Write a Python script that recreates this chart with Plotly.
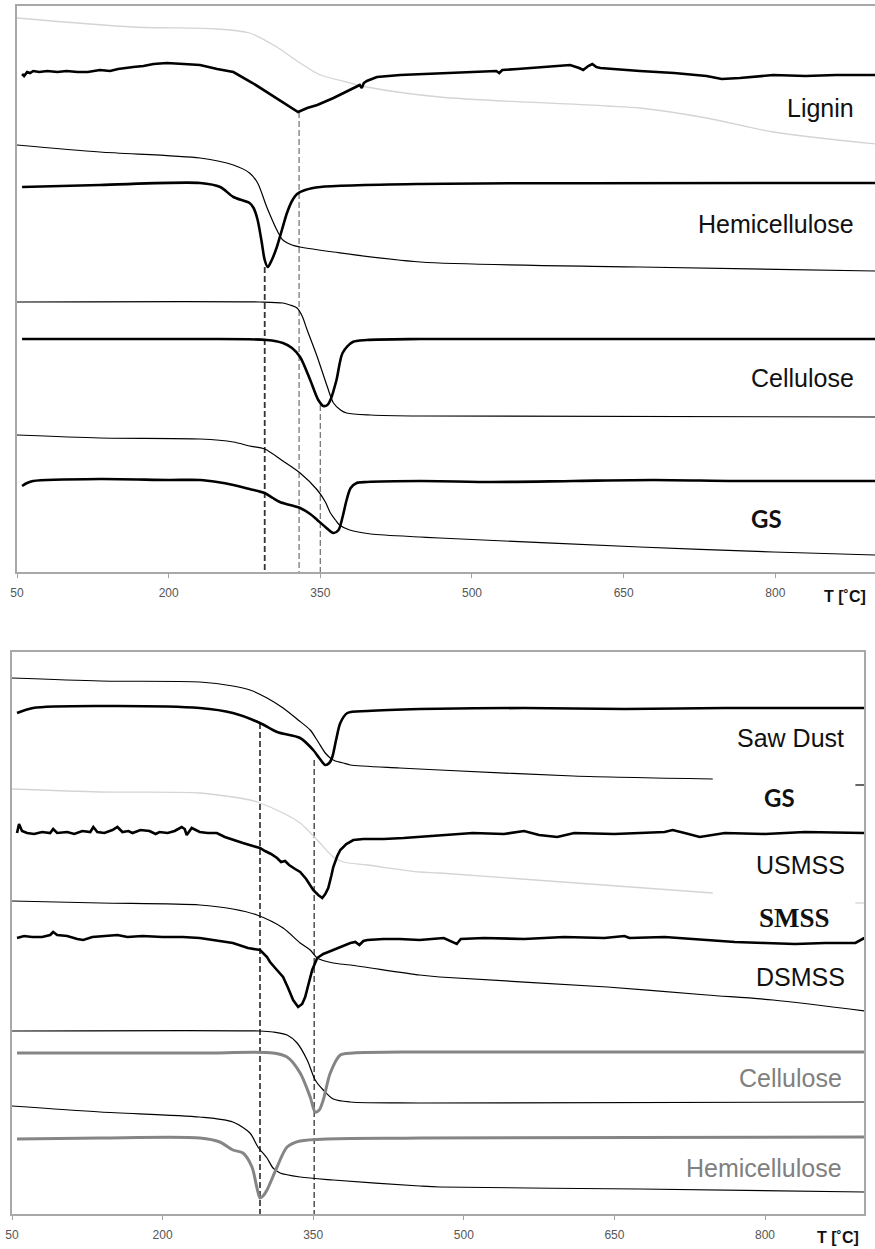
import plotly.graph_objects as go

# ---------------- TOP PANEL (T in deg C, signal in arbitrary units) ----------------
lig_tg_T = [50, 165, 248, 280, 307, 330, 350, 376, 396, 468, 634, 666, 732, 798, 899]
lig_tg_v = [554, 545, 543, 539, 525, 509, 497, 490, 485, 475, 466, 464, 454, 440, 428]

lig_dtg_T = [55, 57, 60, 63, 66, 72, 80, 90, 99, 110, 120, 132, 142, 150, 165, 175, 185, 198, 215, 231,
             248, 264, 283, 297, 310, 320, 328, 337, 347, 363, 379, 389, 391, 393, 396, 402, 406, 429,
             450, 468, 500, 524, 527, 530, 545, 567, 597, 606, 610, 615, 619, 623, 627, 666, 700, 732,
             747, 765, 798, 830, 860, 899]
lig_dtg_v = [498, 496, 500, 499, 501, 500, 501, 500, 501, 500, 500, 502, 501, 503, 505, 506, 508, 509, 508, 507,
             503, 500, 489, 480, 472, 466, 460, 464, 467, 474, 482, 487, 484, 489, 491, 493, 495, 497,
             498, 499, 500, 501, 499, 502, 503, 505, 507, 504, 502, 506, 508, 505, 504, 501, 499, 496,
             493, 494, 497, 496, 497, 497]

hem_tg_T = [50, 132, 231, 264, 280, 288, 297, 308, 313, 322, 330, 363, 449, 666, 899]
hem_tg_v = [427, 420, 414, 407, 399, 389, 365, 340, 332, 327, 325, 320, 310, 305, 301]

hem_dtg_T = [55, 132, 231, 251, 264, 280, 284, 288, 292, 295, 298, 302, 307, 312, 317, 322, 327, 335, 350, 449, 899]
hem_dtg_v = [385, 387, 389, 385, 375, 369, 364, 352, 330, 312, 305, 312, 325, 342, 359, 371, 378, 382, 385, 388, 389]

cel_tg_T = [50, 290, 313, 320, 327, 332, 337, 347, 357, 363, 370, 376, 400, 449, 899]
cel_tg_v = [270, 270, 269, 267, 264, 256, 242, 215, 185, 169, 162, 159, 157, 156, 155]

cel_dtg_T = [55, 231, 297, 313, 322, 330, 340, 348, 353, 357, 360, 366, 372, 382, 396, 449, 899]
cel_dtg_v = [233, 233, 232, 229, 224, 215, 192, 172, 166, 167, 172, 192, 219, 230, 232, 233, 233]

gs_tg_T = [50, 132, 231, 264, 280, 295, 313, 330, 347, 355, 360, 365, 369, 379, 400, 449, 468, 666, 798, 899]
gs_tg_v = [137, 134, 133, 130, 126, 123, 111, 99, 82, 70, 59, 52, 47, 42, 38, 35, 34, 25, 20, 17]

gs_dtg_T = [55, 60, 66, 132, 200, 231, 248, 264, 280, 295, 303, 310, 320, 330, 340, 347, 355, 363, 368,
            372, 376, 380, 386, 396, 449, 520, 600, 680, 760, 840, 899]
gs_dtg_v = [86, 89, 91, 93, 92, 92, 90, 87, 83, 79, 74, 70, 67, 64, 58, 52, 45, 39, 42,
            55, 72, 84, 89, 90, 91, 90, 91, 92, 91, 91, 91]

top_peak_T = [295, 329, 350]
top_peak_v = [305, 460, 167]

# ---------------- BOTTOM PANEL ----------------
sd_tg_T = [50, 138, 237, 270, 287, 304, 320, 335, 347, 355, 362, 367, 372, 380, 387, 436, 476, 609, 748]
sd_tg_v = [536, 533, 532, 528, 524, 516, 506, 494, 484, 472, 461, 456, 453, 451, 449, 446, 444, 438, 435]
sd_tg_tail_T = [890, 899]
sd_tg_tail_v = [429, 429]

sd_dtg_T = [55, 71, 138, 237, 270, 297, 314, 337, 350, 356, 362, 366, 369, 373, 377, 384, 404, 456, 560, 660, 760, 899]
sd_dtg_v = [501, 506, 508, 506, 501, 491, 482, 476, 464, 456, 449, 451, 457, 475, 491, 501, 503, 505, 506, 505, 506, 506]

us_tg_T = [50, 138, 237, 287, 297, 320, 337, 354, 370, 380, 404, 456, 476, 748]
us_tg_v = [425, 422, 421, 414, 411, 401, 391, 374, 357, 352, 349, 342, 341, 321]
us_tg_tail_T = [890, 899]
us_tg_tail_v = [311, 311]

us_dtg_T = [55, 57, 60, 65, 72, 80, 88, 91, 95, 105, 112, 120, 128, 131, 135, 142, 150, 155, 160, 166,
            170, 178, 187, 193, 197, 205, 212, 219, 222, 224, 229, 233, 237, 245, 254, 262, 270, 280,
            290, 297, 302, 308, 314, 318, 322, 326, 332, 337, 343, 350, 355, 359, 362, 365, 368, 370,
            374, 377, 383, 390, 400, 420, 440, 456, 476, 509, 540, 560, 575, 593, 610, 650, 700, 708,
            720, 735, 760, 800, 840, 899]
us_dtg_v = [381, 390, 383, 381, 380, 382, 381, 385, 381, 382, 380, 383, 382, 387, 382, 381, 384, 387, 382, 383,
            381, 384, 383, 380, 382, 381, 383, 387, 385, 379, 386, 384, 382, 381, 381, 377, 374, 371,
            368, 366, 363, 360, 356, 352, 353, 349, 345, 342, 335, 324, 319, 316, 320, 326, 338, 347,
            358, 364, 370, 374, 375, 375, 376, 377, 379, 381, 380, 383, 379, 377, 381, 380, 382, 384,
            381, 377, 381, 380, 382, 381]

sm_tg_T = [50, 138, 237, 270, 294, 320, 337, 347, 354, 370, 387, 456, 476, 643, 742, 808, 899]
sm_tg_v = [313, 311, 309, 305, 299, 286, 271, 264, 256, 251, 249, 239, 237, 227, 219, 214, 203]

ds_dtg_T = [55, 62, 70, 80, 88, 91, 95, 105, 115, 121, 130, 140, 155, 165, 180, 200, 220, 237, 250, 262,
            270, 285, 297, 304, 307, 313, 320, 325, 330, 335, 339, 342, 346, 349, 354, 360, 365, 370,
            378, 387, 392, 396, 400, 404, 420, 436, 456, 480, 493, 497, 520, 560, 600, 640, 660, 665,
            700, 730, 748, 770, 800, 830, 860, 890, 899]
ds_dtg_v = [276, 278, 277, 277, 279, 282, 279, 278, 275, 274, 277, 278, 279, 277, 278, 277, 277, 276, 274, 272,
            271, 266, 264, 257, 252, 245, 237, 226, 214, 207, 210, 217, 232, 244, 256, 260, 262, 264,
            268, 271, 272, 269, 273, 274, 275, 275, 274, 276, 270, 275, 276, 275, 277, 276, 278, 276,
            277, 275, 274, 272, 271, 270, 271, 271, 276]

c2_tg_T = [50, 297, 310, 324, 334, 344, 352, 360, 370, 387, 456, 899]
c2_tg_v = [183, 183, 182, 179, 171, 154, 134, 124, 115, 112, 111, 112]

c2_dtg_T = [55, 237, 310, 324, 337, 347, 352, 356, 360, 367, 377, 390, 456, 899]
c2_dtg_v = [161, 161, 161, 157, 141, 117, 102, 104, 114, 141, 159, 161, 162, 162]

h2_tg_T = [50, 138, 237, 270, 287, 295, 304, 310, 317, 337, 370, 456, 476, 675, 899]
h2_tg_v = [108, 102, 97, 92, 81, 67, 56, 46, 41, 37, 34, 28, 27, 25, 22]

h2_dtg_T = [55, 138, 237, 257, 270, 280, 289, 294, 297, 300, 304, 314, 324, 337, 456, 899]
h2_dtg_v = [75, 76, 76, 72, 64, 61, 47, 26, 16, 18, 24, 47, 67, 73, 76, 77]

bot_peak_T = [297, 351]
bot_peak_v = [491, 454]

tick_vals = [50, 200, 350, 500, 650, 800]

# ---------------- FIGURE ----------------
fig = go.Figure()

THIN = dict(color="black", width=1.2, shape="spline", smoothing=0.8)
THICK = dict(color="black", width=2.6, shape="spline", smoothing=0.8)
NOISY = dict(color="black", width=2.6)
LIGHT = dict(color="#d4d4d4", width=1.3, shape="spline", smoothing=0.8)
GREYT = dict(color="#858585", width=3, shape="spline", smoothing=0.8)


def add(x, y, line, xa="x", ya="y"):
    fig.add_trace(go.Scatter(x=x, y=y, mode="lines", line=line, xaxis=xa, yaxis=ya,
                             hoverinfo="skip", showlegend=False))


# top dashed
top_dash_cols = ["#333333", "#7a7a7a", "#7a7a7a"]
top_dash_w = [1.8, 1.3, 1.3]
for T, v, c, w in zip(top_peak_T, top_peak_v, top_dash_cols, top_dash_w):
    add([T, T], [v, 0], dict(color=c, width=w, dash="6px,3px"))

add(lig_tg_T, lig_tg_v, LIGHT)
add(lig_dtg_T, lig_dtg_v, NOISY)
add(hem_tg_T, hem_tg_v, THIN)
add(hem_dtg_T, hem_dtg_v, THICK)
add(cel_tg_T, cel_tg_v, THIN)
add(cel_dtg_T, cel_dtg_v, THICK)
add(gs_tg_T, gs_tg_v, THIN)
add(gs_dtg_T, gs_dtg_v, THICK)

# bottom dashed
for T, v, c, w in zip(bot_peak_T, bot_peak_v, ["#404040", "#505050"], [1.8, 1.5]):
    add([T, T], [v, 0], dict(color=c, width=w, dash="6px,3px"), "x2", "y2")

add(sd_tg_T, sd_tg_v, THIN, "x2", "y2")
add(sd_tg_tail_T, sd_tg_tail_v, THIN, "x2", "y2")
add(sd_dtg_T, sd_dtg_v, THICK, "x2", "y2")
add(us_tg_T, us_tg_v, LIGHT, "x2", "y2")
add(us_tg_tail_T, us_tg_tail_v, LIGHT, "x2", "y2")
add(us_dtg_T, us_dtg_v, NOISY, "x2", "y2")
add(sm_tg_T, sm_tg_v, THIN, "x2", "y2")
add(ds_dtg_T, ds_dtg_v, NOISY, "x2", "y2")
add(c2_tg_T, c2_tg_v, THIN, "x2", "y2")
add(c2_dtg_T, c2_dtg_v, GREYT, "x2", "y2")
add(h2_tg_T, h2_tg_v, THIN, "x2", "y2")
add(h2_dtg_T, h2_dtg_v, GREYT, "x2", "y2")

W, H = 875, 1249
xcommon = dict(range=[50, 898.6], tickvals=tick_vals, ticks="outside", ticklen=4, tickcolor="#a0a0a0",
               showline=True, linecolor="#a8a8a8", linewidth=1.5, mirror=True, showgrid=False,
               zeroline=False, tickfont=dict(family="Liberation Sans, Arial", size=12, color="#555555"),
               ticklabelstandoff=5, automargin=False)
ycommon = dict(showticklabels=False, ticks="", showgrid=False, zeroline=False, automargin=False,
               showline=True, linecolor="#a8a8a8", linewidth=1.5, mirror=True)

fig.update_layout(
    width=W, height=H, margin=dict(l=0, r=0, t=0, b=0, pad=0, autoexpand=False),
    paper_bgcolor="white", plot_bgcolor="white", showlegend=False,
    xaxis=dict(domain=[17 / W, 1.0], anchor="y", **xcommon),
    yaxis=dict(domain=[1 - 572 / H, 1 - 6 / H], range=[0, 566], anchor="x", **ycommon),
    xaxis2=dict(domain=[12 / W, 864 / W], anchor="y2", **xcommon),
    yaxis2=dict(domain=[1 - 1214 / H, 1 - 652 / H], range=[0, 562], anchor="x2", **ycommon),
)

LAB = dict(family="Liberation Sans, Arial", size=25, color="#111111")
LABG = dict(family="Liberation Sans, Arial", size=25, color="#808080")
BOLDGS = dict(family="Lato, Open Sans", size=24, color="#111111", weight="bold")
SERIFB = dict(family="Liberation Serif, Times New Roman", size=27, color="#111111", weight="bold")

ann = [
    ("Lignin", 880, 464, "right", LAB, "x", "y"),
    ("Hemicellulose", 880, 348, "right", LAB, "x", "y"),
    ("Cellulose", 880, 194, "right", LAB, "x", "y"),
    ("GS", 774, 54, "left", BOLDGS, "x", "y"),
    ("Saw Dust", 881, 476, "right", LAB, "x2", "y2"),
    ("GS", 797, 417, "left", BOLDGS, "x2", "y2"),
    ("USMSS", 882, 349, "right", LAB, "x2", "y2"),
    ("SMSS", 792, 296, "left", SERIFB, "x2", "y2"),
    ("DSMSS", 882, 237, "right", LAB, "x2", "y2"),
    ("Cellulose", 879, 136, "right", LABG, "x2", "y2"),
    ("Hemicellulose", 879, 46, "right", LABG, "x2", "y2"),
]
for text, x, y, xa, font, xr, yr in ann:
    fig.add_annotation(text=text, x=x, y=y, xref=xr, yref=yr, xanchor=xa, yanchor="middle",
                       showarrow=False, font=font)

TF = dict(family="Liberation Sans, Arial", size=16, color="#111111", weight="bold")
fig.add_annotation(text="T [˚C]", x=845 / W, y=1 - 596 / H, xref="paper", yref="paper",
                   xanchor="center", yanchor="middle", showarrow=False, font=TF)
fig.add_annotation(text="T [˚C]", x=838 / W, y=1 - 1237 / H, xref="paper", yref="paper",
                   xanchor="center", yanchor="middle", showarrow=False, font=TF)

fig.write_html("out.html", config={"displayModeBar": False},
               post_script="document.body.style.margin='0';document.body.style.padding='0';"
                           "document.documentElement.style.overflow='hidden';")
